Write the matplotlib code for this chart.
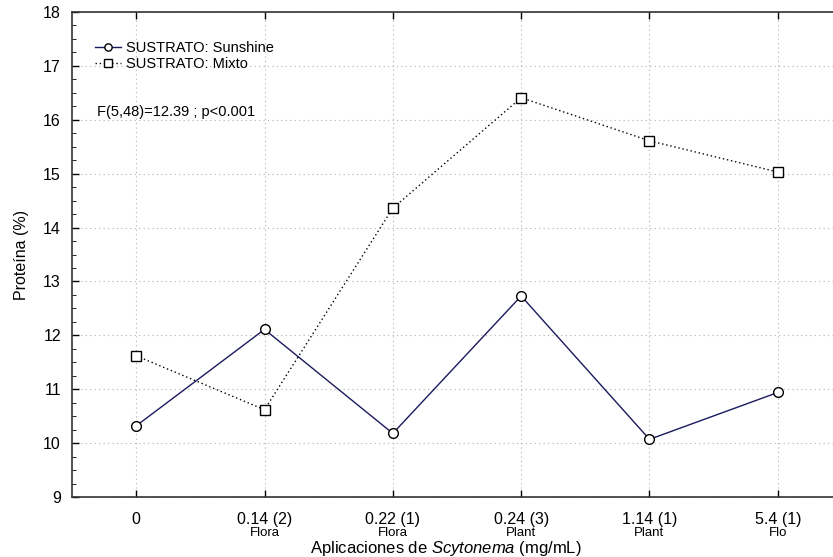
import matplotlib
matplotlib.use("Agg")
import matplotlib.pyplot as plt
import matplotlib.transforms as mtransforms
from matplotlib.ticker import MultipleLocator

plt.rcParams['font.family'] = ['Liberation Sans', 'DejaVu Sans']
plt.rcParams['mathtext.fontset'] = 'custom'
plt.rcParams['mathtext.it'] = 'Liberation Sans:italic'
plt.rcParams['mathtext.rm'] = 'Liberation Sans'

# datos
dosis = ['0', '0.14 (2)', '0.22 (1)', '0.24 (3)', '1.14 (1)', '5.4 (1)']
producto = ['', 'Flora', 'Flora', 'Plant', 'Plant', 'Flo']
sunshine = [10.32, 12.11, 10.18, 12.73, 10.07, 10.94]
mixto = [11.62, 10.62, 14.36, 16.41, 15.61, 15.03]

fig = plt.figure(figsize=(8.33, 5.57), dpi=100)
ax = fig.add_axes([72 / 833, 1 - 497 / 557, (842 - 72) / 833, 485 / 557])

x = list(range(len(dosis)))
ax.plot(x, sunshine, color='#1a1a5e', lw=1.0, ls='-', marker='o', ms=7,
        mfc='white', mec='black', mew=1.0, label='SUSTRATO: Sunshine')
ax.plot(x, mixto, color='black', lw=1.0, ls=(0, (1, 2)), marker='s', ms=7,
        mfc='white', mec='black', mew=1.0, label='SUSTRATO: Mixto')

ax.set_xlim(-0.5, 5.5)
ax.set_ylim(9, 18)
ax.set_xticks(x)
ax.set_xticklabels(dosis, fontsize=11.5)
ax.yaxis.set_major_locator(MultipleLocator(1))
ax.yaxis.set_minor_locator(MultipleLocator(0.25))
ax.tick_params(axis='both', direction='in', top=True, length=5, width=1)
ax.tick_params(axis='x', pad=11)
ax.tick_params(axis='y', pad=8, labelsize=11.5)
ax.tick_params(axis='y', which='minor', direction='in', length=3)
ax.grid(True, ls=(0, (1, 3)), color='#b0b0b0', lw=0.8)
for s in ax.spines.values():
    s.set_linewidth(1.2)
    s.set_color('#333333')

trans = mtransforms.blended_transform_factory(ax.transData, fig.transFigure)
for xi, p in zip(x, producto):
    ax.text(xi, 1 - 533.5 / 557, p, transform=trans, ha='center', va='center', fontsize=9.5)

fig.text(446 / 833, 1 - 549 / 557,
         'Aplicaciones de $\\it{Scytonema}$ (mg/mL)', ha='center', va='center',
         fontsize=12)
ax.set_ylabel('Proteína (%)', fontsize=11.5, labelpad=10)

leg = ax.legend(loc='upper left', bbox_to_anchor=((95 - 72) / 770, 1 - (41 - 12) / 485),
                frameon=False, fontsize=10.5, borderaxespad=0, borderpad=0,
                handlelength=1.8, handletextpad=0.3, labelspacing=0.15, markerscale=0.75)
ax.text((97 - 72) / 770, 1 - (112 - 12) / 485, 'F(5,48)=12.39 ; p<0.001',
        transform=ax.transAxes, ha='left', va='center', fontsize=10.5)

fig.savefig('out.png', dpi=100)
